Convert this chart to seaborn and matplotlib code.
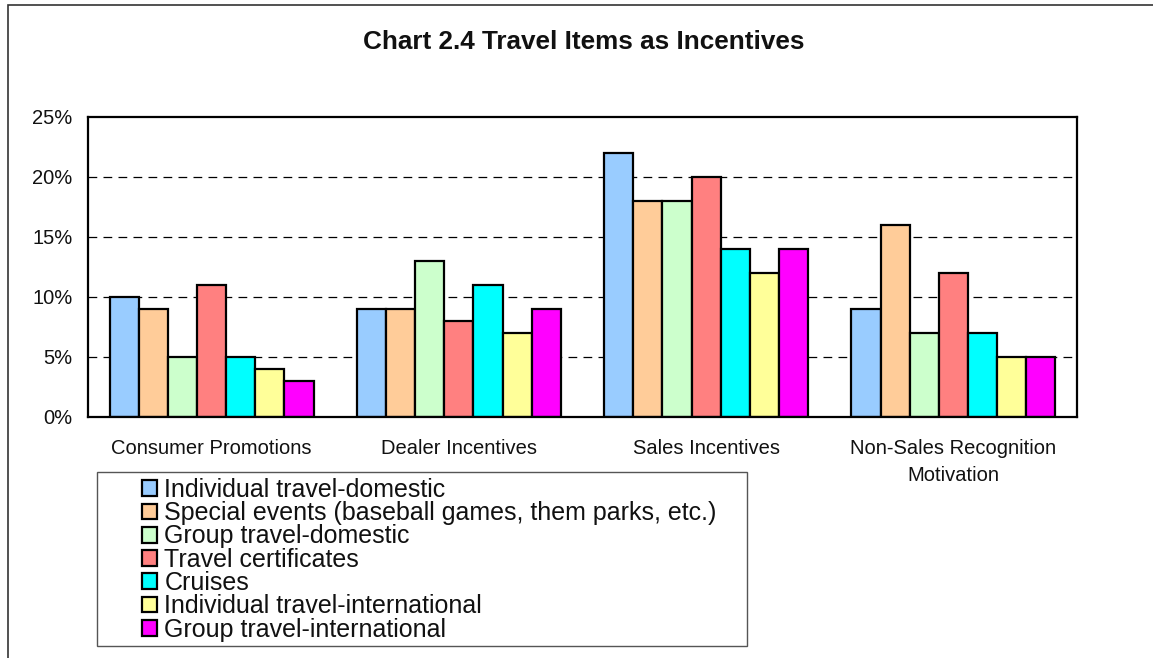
import matplotlib
matplotlib.use("Agg")
import matplotlib.pyplot as plt
import matplotlib.patches as mpatches
import seaborn as sns
import pandas as pd
import numpy as np

categories = ["Consumer Promotions", "Dealer Incentives", "Sales Incentives",
              "Non-Sales Recognition\nMotivation"]
series = ["Individual travel-domestic",
          "Special events (baseball games, them parks, etc.)",
          "Group travel-domestic",
          "Travel certificates",
          "Cruises",
          "Individual travel-international",
          "Group travel-international"]
individual_domestic = [10, 9, 22, 9]
special_events = [9, 9, 18, 16]
group_domestic = [5, 13, 18, 7]
travel_certificates = [11, 8, 20, 12]
cruises = [5, 11, 14, 7]
individual_international = [4, 7, 12, 5]
group_international = [3, 9, 14, 5]
yticks = [0, 5, 10, 15, 20, 25]
ytick_labels = ["0%", "5%", "10%", "15%", "20%", "25%"]
colors = ["#99CCFF", "#FFCC99", "#CCFFCC", "#FF8080", "#00FFFF", "#FFFF99", "#FF00FF"]

values = [individual_domestic, special_events, group_domestic, travel_certificates,
          cruises, individual_international, group_international]
rows = []
for s, vals in zip(series, values):
    for c, v in zip(categories, vals):
        rows.append({"category": c, "series": s, "value": v})
df = pd.DataFrame(rows)

sns.set_style("white")
plt.rcParams["font.family"] = ["Liberation Sans", "DejaVu Sans"]

fig = plt.figure(figsize=(11.53, 6.58), dpi=100)
ax = fig.add_axes([88/1153, 1-417/658, (1077-88)/1153, 300/658])

sns.barplot(data=df, x="category", y="value", hue="series", order=categories,
            hue_order=series, palette=colors, width=0.825, gap=0,
            edgecolor="black", linewidth=1.6, ax=ax, legend=True, saturation=1)

ax.set_ylim(0, 25)
ax.set_xlim(-0.5, len(categories) - 0.5)
ax.set_yticks(yticks)
ax.set_yticklabels(ytick_labels, fontsize=14.5, color="#111111")
ax.set_xlabel("")
ax.set_ylabel("")
ax.tick_params(axis="x", length=0, labelsize=14.5, pad=16, labelcolor="#111111")
ax.tick_params(axis="y", direction="inout", length=10, width=1, color="black", pad=6)
ax.set_xticks(np.arange(-0.5, len(categories)), minor=True)
ax.tick_params(axis="x", which="minor", direction="out", length=6, width=1, color="#333333")
for lbl in ax.get_xticklabels():
    lbl.set_linespacing(1.5)
for sp in ax.spines.values():
    sp.set_linewidth(1.6)
    sp.set_color("black")
ax.grid(False)
for y in yticks[1:-1]:
    ax.axhline(y, color="black", linewidth=0.9, dashes=(7, 5), zorder=0.5)

# Legend
handles, labels = ax.get_legend_handles_labels()
ax.get_legend().remove()
leg = fig.legend(handles, labels, loc="upper left",
                 bbox_to_anchor=(142/1153, 1-478/658), frameon=False,
                 fontsize=18, labelspacing=-0.03, handlelength=0.6, handleheight=0.6,
                 handletextpad=0.3, borderpad=0, borderaxespad=0)
for h in leg.legend_handles:
    h.set_edgecolor("black")
    h.set_linewidth(1.6)
for t in leg.get_texts():
    t.set_color("#111111")

fig.patches.append(mpatches.Rectangle((97/1153, 1-646/658), 650/1153, 174/658,
                                      transform=fig.transFigure, fill=False,
                                      edgecolor="#555555", linewidth=1))
# outer frame
fig.patches.append(mpatches.Rectangle((8/1153, -0.05), 1.2, 1.05 - 5/658,
                                      transform=fig.transFigure, fill=False,
                                      edgecolor="#333333", linewidth=1.2))

fig.text(584/1153, 1-42/658, "Chart 2.4 Travel Items as Incentives", ha="center",
         va="center", fontsize=18.8, fontweight="bold", color="#111111")

fig.savefig("out.png", dpi=100, facecolor="white")
